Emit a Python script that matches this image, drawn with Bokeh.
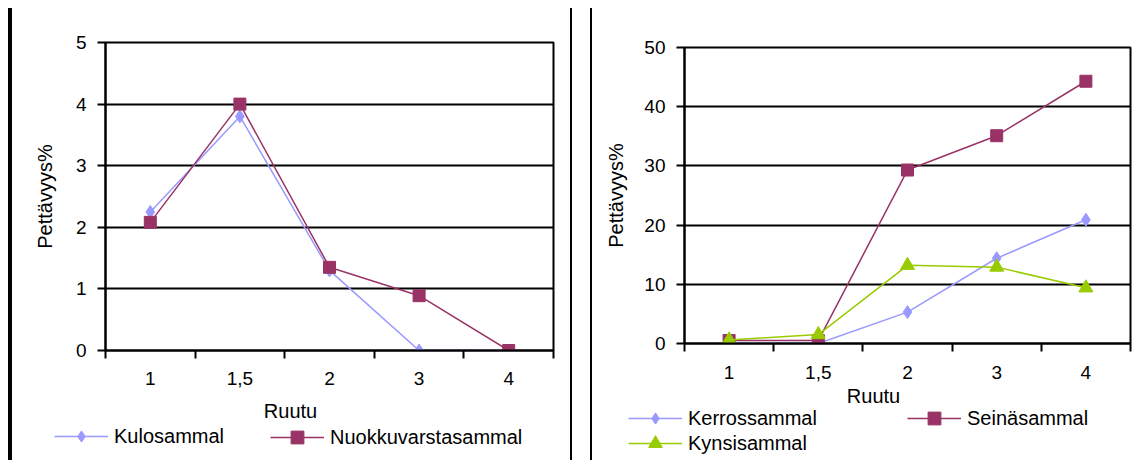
from bokeh.plotting import figure
from bokeh.models import Range1d, FixedTicker, Legend, LegendItem, Label, Div
from bokeh.layouts import row, column
from bokeh.embed import file_html
from bokeh.resources import INLINE

# ---------------- data ----------------
categories = ["1", "1,5", "2", "3", "4"]

left_y_ticks = [0, 1, 2, 3, 4, 5]
kulosammal = [2.25, 3.8, 1.3, 0.0, 0.0]
nuokkuvarstasammal = [2.08, 4.0, 1.35, 0.89, 0.0]

right_y_ticks = [0, 10, 20, 30, 40, 50]
kerrossammal = [0.0, 0.0, 5.3, 14.4, 20.9]
seinasammal = [0.5, 0.5, 29.3, 35.1, 44.3]
kynsisammal = [0.6, 1.5, 13.2, 12.9, 9.4]

y_title = "Pettävyys%"
x_title = "Ruutu"

BLUE = "#9999FF"
PLUM = "#993366"
GREEN = "#99CC00"
FONT = "Liberation Sans"

n = len(categories)
xs = [i + 0.5 for i in range(n)]


def make_fig(width, height, left, right, top, bottom, ymax, yticks, x_standoff, ytitle_standoff):
    p = figure(width=width, height=height, title=None,
               min_border_left=left, min_border_right=right,
               min_border_top=top, min_border_bottom=bottom,
               x_range=Range1d(0, n), y_range=Range1d(0, ymax),
               output_backend="svg", toolbar_location=None)
    p.frame_align = False
    p.background_fill_color = "white"
    p.border_fill_color = "white"
    p.outline_line_color = "black"
    p.outline_line_width = 2

    xa = p.xaxis[0]
    xa.ticker = FixedTicker(ticks=xs, minor_ticks=list(range(n + 1)))
    xa.major_label_overrides = {x: c for x, c in zip(xs, categories)}
    xa.major_tick_line_color = None
    xa.minor_tick_line_color = "black"
    xa.minor_tick_line_width = 2
    xa.minor_tick_in = 0
    xa.minor_tick_out = 8
    xa.axis_line_width = 2
    xa.axis_line_color = "black"
    xa.major_label_standoff = x_standoff
    xa.major_label_text_font = FONT
    xa.major_label_text_font_size = "19px"
    xa.major_label_text_color = "black"

    ya = p.yaxis[0]
    ya.ticker = FixedTicker(ticks=yticks, minor_ticks=[])
    ya.major_tick_in = 0
    ya.major_tick_out = 8
    ya.major_tick_line_width = 2
    ya.major_tick_line_color = "black"
    ya.minor_tick_line_color = None
    ya.axis_line_width = 2
    ya.axis_line_color = "black"
    ya.major_label_standoff = 11
    ya.major_label_text_font = FONT
    ya.major_label_text_font_size = "19px"
    ya.major_label_text_color = "black"
    ya.axis_label = y_title
    ya.axis_label_text_font = FONT
    ya.axis_label_text_font_size = "20px"
    ya.axis_label_text_font_style = "normal"
    ya.axis_label_text_color = "black"
    ya.axis_label_standoff = ytitle_standoff

    p.xgrid.visible = False
    p.ygrid.grid_line_color = "black"
    p.ygrid.grid_line_width = 2
    return p


def make_legend_fig(width, height):
    # legend strip: its own glyph copies sit outside the visible ranges
    q = figure(width=width, height=height, title=None,
               min_border_left=0, min_border_right=0, min_border_top=0, min_border_bottom=0,
               x_range=Range1d(100, 101), y_range=Range1d(100, 101),
               x_axis_location=None, y_axis_location=None,
               output_backend="svg", toolbar_location=None)
    q.frame_align = False
    q.grid.visible = False
    q.outline_line_color = None
    q.background_fill_color = "white"
    q.border_fill_color = "white"
    return q


def series(p, ys, color, marker, size):
    lr = p.line(xs, ys, line_color=color, line_width=1.5)
    sr = p.scatter(xs, ys, marker=marker, size=size, fill_color=color, line_color=color)
    return [lr, sr]


def add_legend(q, label, rends, x, y, gh):
    lg = Legend(items=[LegendItem(label=label, renderers=rends)], location=(x, y),
                orientation="vertical", glyph_height=gh, glyph_width=54,
                label_standoff=6, padding=0, margin=0, spacing=0,
                border_line_color=None, background_fill_alpha=0,
                label_text_font=FONT, label_text_font_size="20px",
                label_text_color="black", label_height=20)
    q.add_layout(lg)


def add_text(q, text, x, y):
    q.add_layout(Label(x=x, y=y, x_units="screen", y_units="screen", text=text,
                       text_align="center", text_baseline="middle",
                       text_font=FONT, text_font_size="20px", text_color="black"))


# ---------------- left chart ----------------
pl = make_fig(558, 390, 93, 17, 42, 40, 5, left_y_ticks, 13, 17)
series(pl, kulosammal, BLUE, "diamond", 13)
series(pl, nuokkuvarstasammal, PLUM, "square", 12)

ql = make_legend_fig(558, 70)
add_legend(ql, "Kulosammal", series(ql, kulosammal, BLUE, "diamond", 13), 42, 10, 28)
add_legend(ql, "Nuokkuvarstasammal", series(ql, nuokkuvarstasammal, PLUM, "square", 12), 258, 7, 32)
add_text(ql, x_title, 278, 50)

# ---------------- right chart ----------------
pr = make_fig(546, 384, 92, 8, 47, 41, 50, right_y_ticks, 14, 14)
series(pr, kerrossammal, BLUE, "diamond", 13)
series(pr, seinasammal, PLUM, "square", 12)
series(pr, kynsisammal, GREEN, "triangle", 14)

qr = make_legend_fig(546, 76)
add_legend(qr, "Kerrossammal", series(qr, kerrossammal, BLUE, "diamond", 13), 36, 28, 28)
add_legend(qr, "Seinäsammal", series(qr, seinasammal, PLUM, "square", 12), 315, 26, 32)
add_legend(qr, "Kynsisammal", series(qr, kynsisammal, GREEN, "triangle", 14), 36, 0, 34)
add_text(qr, x_title, 281, 65)

# ---------------- separators ----------------
bar_a = Div(text="", width=12, height=460, margin=0, styles={
    "background": "linear-gradient(to bottom, #fff 8px, transparent 8px), "
                  "linear-gradient(to right, #fff 8px, #000 8px)"})
bar_b = Div(text="", width=22, height=460, margin=0, styles={
    "background": "linear-gradient(to bottom, #fff 8px, transparent 8px), "
                  "linear-gradient(to right, #000 2px, #fff 2px, #fff 20px, #000 20px)"})

layout = row(bar_a, column(pl, ql, spacing=0), bar_b, column(pr, qr, spacing=0), spacing=0)
open("out.html", "w").write(file_html(layout, INLINE))
